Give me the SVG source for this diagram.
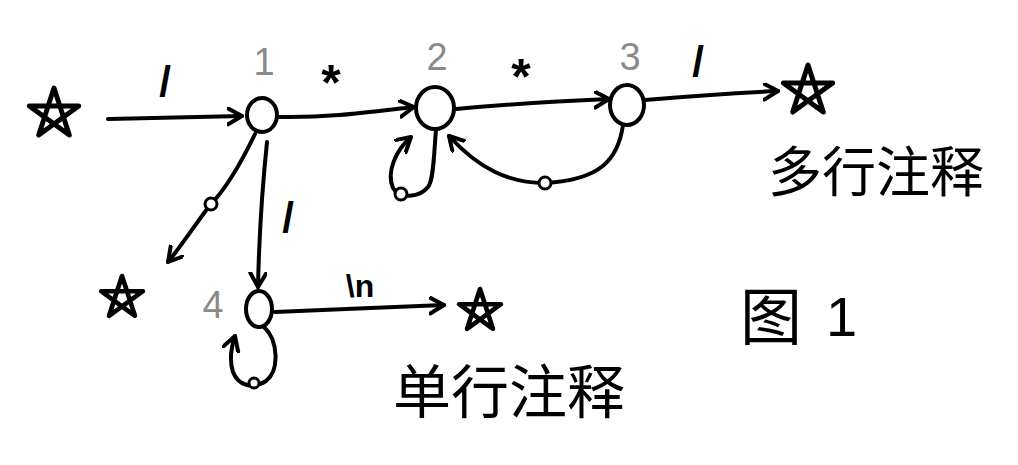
<svg xmlns="http://www.w3.org/2000/svg" width="1018" height="465" viewBox="0 0 1018 465">
<style>
.edge{fill:none;stroke:#000;stroke-width:4;stroke-linecap:round;stroke-linejoin:round}
.node{fill:#fff;stroke:#000;stroke-width:4}
.star{fill:none;stroke:#000;stroke-width:5;stroke-linejoin:round}
.dot{fill:#fff;stroke:#000;stroke-width:3}
.lbl{font-family:"Liberation Sans","DejaVu Sans",sans-serif;font-weight:bold;fill:#000}
.cap{font-family:"Liberation Sans","DejaVu Sans",sans-serif;fill:#000}
.num{font-family:"Liberation Sans","DejaVu Sans",sans-serif;fill:#8a8a8a}
.cjk{font-family:"Noto Sans CJK SC","Noto Sans",sans-serif;fill:#000}
</style>
<defs>
<marker id="arr" markerUnits="userSpaceOnUse" markerWidth="20" markerHeight="20" refX="15" refY="9" orient="auto">
<path d="M1,1 L15,9 L1,17" fill="none" stroke="#000" stroke-width="4" stroke-linecap="round" stroke-linejoin="round"/>
</marker>
<path id="star" d="M0,-1 L0.588,0.809 L-0.951,-0.309 L0.951,-0.309 L-0.588,0.809 Z"/>
</defs>
<rect width="1018" height="465" fill="#fff"/>

<g id="connectors">
<path class="edge" d="M108,119 L242,116" marker-end="url(#arr)"/>
<path class="edge" d="M279,117 C330,118 370,112 414,107" marker-end="url(#arr)"/>
<path class="edge" d="M456,109 C510,104 560,101 609,99" marker-end="url(#arr)"/>
<path class="edge" d="M645,100 C690,96 730,93 778,91" marker-end="url(#arr)"/>
<path class="edge" d="M436,130 C434,150 434,180 428,187 C420,197 400,200 393,188 C386,172 396,150 411,137" marker-end="url(#arr)"/>
<path class="edge" d="M623,125 C618,160 600,180 545,183 C510,183 480,170 449,136" marker-end="url(#arr)"/>
<path class="edge" d="M255,134 C240,165 225,190 210,205 C195,225 182,245 168,262" marker-end="url(#arr)"/>
<path class="edge" d="M267,142 C262,190 259,240 258,287" marker-end="url(#arr)"/>
<path class="edge" d="M275,312 C330,310 390,307 444,305" marker-end="url(#arr)"/>
<path class="edge" d="M264,327 C278,340 280,370 266,381 C252,390 238,385 233,372 C229,360 231,348 235,336" marker-end="url(#arr)"/>
<ellipse class="dot" cx="401" cy="194" rx="6" ry="6"/>
<ellipse class="dot" cx="545" cy="183" rx="6" ry="6"/>
<ellipse class="dot" cx="211" cy="204" rx="6" ry="6"/>
<ellipse class="dot" cx="254" cy="383" rx="5" ry="5"/>
<text class="lbl" x="165" y="96" font-size="42" text-anchor="middle">/</text>
<text class="lbl" x="331" y="100" font-size="50" text-anchor="middle">*</text>
<text class="lbl" x="521" y="94" font-size="50" text-anchor="middle">*</text>
<text class="lbl" x="698" y="76" font-size="42" text-anchor="middle">/</text>
<text class="lbl" x="288" y="232" font-size="42" text-anchor="middle">/</text>
<text class="lbl" x="360" y="297" font-size="32" text-anchor="middle">\n</text>
</g>

<g id="start">
<use href="#star" class="star" transform="translate(54,114) scale(26)" style="stroke-width:0.19"/>
</g>
<g id="node1">
<ellipse class="node" cx="262" cy="115" rx="15" ry="17"/>
<text class="num" x="264" y="75" font-size="38" text-anchor="middle">1</text>
</g>
<g id="node2">
<ellipse class="node" cx="435" cy="108" rx="19" ry="21"/>
<text class="num" x="437" y="70" font-size="38" text-anchor="middle">2</text>
</g>
<g id="node3">
<ellipse class="node" cx="627" cy="105" rx="17" ry="20"/>
<text class="num" x="630" y="70" font-size="38" text-anchor="middle">3</text>
</g>
<g id="node4">
<ellipse class="node" cx="259" cy="309" rx="13" ry="18"/>
<text class="num" x="213" y="318" font-size="38" text-anchor="middle">4</text>
</g>
<g id="end-multi">
<use href="#star" class="star" transform="translate(808,91) scale(26)" style="stroke-width:0.19"/>
<text class="cjk" x="768" y="192" font-size="54">多行注释</text>
</g>
<g id="end-other">
<use href="#star" class="star" transform="translate(122,298) scale(22)" style="stroke-width:0.21"/>
</g>
<g id="end-single">
<use href="#star" class="star" transform="translate(480,311) scale(22)" style="stroke-width:0.21"/>
<text class="cjk" x="393" y="413" font-size="58">单行注释</text>
</g>
<g id="caption">
<text class="cjk" x="740" y="340" font-size="62">图</text>
<text class="cap" x="826" y="336" font-size="56">1</text>
</g>
</svg>
